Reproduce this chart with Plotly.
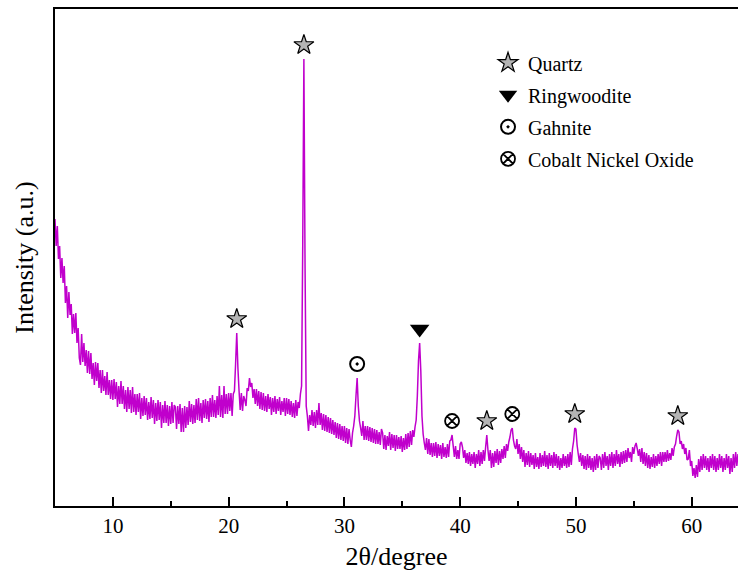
import numpy as np
import plotly.graph_objects as go

# XRD scan: 2θ from 5.0° in 0.1° steps, intensity in counts
scan_start = 5.0
scan_step = 0.1

# 5.0 – 9.9°
counts_part1 = [
    2870, 2600, 2800, 2470, 2600, 2280, 2480, 2230, 2400, 2030,
    2200, 1880, 2140, 1910, 2020, 1720, 1920, 1730, 1930, 1630,
    1780, 1480, 1410, 1720, 1440, 1630, 1400, 1560, 1330, 1550,
    1320, 1530, 1270, 1430, 1210, 1440, 1250, 1430, 1180, 1360,
    1130, 1360, 1150, 1300, 1110, 1340, 1110, 1260, 1070, 1260,
]
# 10.0 – 14.9°
counts_part2 = [
    1060, 1270, 1070, 1240, 990, 1200, 1020, 1250, 1020, 1200,
    970, 1160, 940, 1190, 970, 1160, 930, 1190, 940, 1120,
    910, 1120, 940, 1130, 870, 1080, 900, 1100, 910, 1080,
    860, 1040, 870, 1090, 880, 1060, 820, 1030, 850, 1060,
    860, 1040, 780, 1010, 830, 1050, 830, 1010, 800, 1000,
]
# 15.0 – 19.8°
counts_part3 = [
    820, 1040, 830, 1010, 990, 770, 1000, 820, 1020, 740,
    980, 740, 1000, 780, 990, 810, 1050, 840, 1020, 820,
    1010, 830, 1070, 860, 1080, 850, 1030, 830, 1060, 880,
    1070, 870, 1050, 840, 1080, 890, 1110, 890, 1060, 880,
    1100, 910, 1200, 890, 1110, 880, 1200, 920, 1120,
]
# 19.9 – 29.8°
counts_part4 = [
    920, 1130, 950, 1130, 900, 1120, 1150, 1420, 1730, 1380,
    1150, 960, 1130, 950, 1100, 1060, 1000, 1180, 1150, 1280,
    1190, 1230, 1080, 1170, 1020, 1170, 1000, 1150, 970, 1140,
    960, 1130, 950, 1100, 940, 1120, 970, 1090, 910, 1080,
    940, 1100, 920, 1070, 950, 1090, 910, 1050, 940, 1080,
    900, 1080, 920, 1070, 910, 1050, 890, 1030, 880, 1060,
    900, 1040, 980, 1120, 1200, 2600, 4470, 2400, 1000, 900,
    750, 910, 810, 960, 800, 940, 780, 960, 810, 1030,
    810, 930, 760, 920, 750, 910, 740, 890, 730, 880,
    720, 860, 710, 840, 680, 830, 670, 820, 660, 800,
]
# 29.9 – 39.7°
counts_part5 = [
    650, 800, 630, 780, 620, 770, 660, 590, 730, 800,
    900, 1100, 1280, 1000, 850, 780, 700, 850, 660, 800,
    660, 800, 650, 790, 640, 780, 630, 770, 620, 760,
    620, 740, 610, 770, 730, 570, 710, 560, 700,
    600, 740, 560, 720, 580, 710, 550, 710, 570, 690,
    570, 700, 540, 680, 560, 720, 570, 730, 590, 750,
    610, 760, 690, 790, 860, 1100, 1450, 1630, 1350, 900,
    720, 630, 560, 680, 520, 670, 510, 630, 490, 630,
    500, 640, 480, 620, 500, 610, 470, 630, 490, 590,
    480, 620, 490, 650, 660, 710, 600, 490, 600, 470,
]
# 39.8 – 49.7°
counts_part6 = [
    560, 470, 620, 640, 590, 480, 560, 430, 530, 420,
    540, 400, 520, 420, 540, 380, 520, 420, 560, 400,
    540, 420, 560, 450, 590, 710, 560, 450, 560, 380,
    530, 390, 550, 430, 570, 410, 550, 430, 570, 470,
    600, 480, 620, 550, 640, 690, 760, 780, 660, 600,
    570, 670, 520, 620, 470, 590, 440, 560, 390, 530,
    410, 550, 390, 530, 410, 510, 370, 530, 390, 490,
    370, 530, 390, 510, 400, 550, 390, 510, 370, 530,
    400, 510, 380, 540, 400, 520, 380, 500, 360, 480,
    380, 520, 400, 500, 380, 520, 390, 540, 410, 570,
]
# 49.8 – 59.6°
counts_part7 = [
    650, 780, 770, 610, 520, 440, 530, 400, 510, 370,
    500, 360, 520, 380, 500, 360, 480, 340, 500, 360,
    520, 380, 500, 480, 360, 520, 380, 540, 400,
    500, 360, 520, 400, 540, 380, 520, 400, 560, 420,
    520, 390, 540, 420, 550, 430, 560, 440, 580, 480,
    540, 440, 590, 520, 600, 630, 570, 500, 570, 440,
    580, 420, 540, 400, 530, 380, 510, 370, 490, 390,
    520, 380, 500, 400, 520, 420, 540, 400, 540, 440,
    540, 440, 560, 450, 530, 460, 580, 500, 590, 620,
    700, 760, 740, 620, 650, 570, 620, 520, 580, 460,
]
# 59.7 – 64.1°
counts_part8 = [
    470, 560, 400, 450, 300, 380, 280, 410, 290, 470,
    340, 500, 360, 520, 380, 500, 360, 480, 340, 500,
    380, 520, 360, 500, 340, 480, 360, 520, 380, 500,
    340, 480, 360, 520, 380, 500, 320, 480, 340, 520,
    380, 540, 400, 520, 420,
]

# Identified reflections (2θ) and their phases
peak_2theta = [20.7, 26.5, 31.1, 36.5, 39.3, 42.3, 44.5, 49.9, 58.8]
peak_phase = ["Quartz", "Quartz", "Gahnite", "Ringwoodite", "Cobalt Nickel Oxide",
              "Quartz", "Cobalt Nickel Oxide", "Quartz", "Quartz"]

phase_order = ["Quartz", "Ringwoodite", "Gahnite", "Cobalt Nickel Oxide"]
phase_marker = {
    "Quartz": dict(symbol="star", size=15, color="#b4b4b4",
                   line=dict(color="#000000", width=1.2)),
    "Ringwoodite": dict(symbol="triangle-down", size=17, color="#000000",
                        line=dict(color="#000000", width=0)),
    "Gahnite": dict(symbol="circle-open-dot", size=14, color="#000000",
                    line=dict(color="#000000", width=2)),
    "Cobalt Nickel Oxide": dict(symbol="circle-x-open", size=14, color="#000000",
                                line=dict(color="#000000", width=1.8)),
}

counts = np.array(counts_part1 + counts_part2 + counts_part3 + counts_part4
                  + counts_part5 + counts_part6 + counts_part7 + counts_part8, dtype=float)
two_theta = np.round(scan_start + scan_step * np.arange(counts.size), 2)

label_gap = 140  # counts between a peak top and its phase symbol


def peak_top(t):
    near = np.abs(two_theta - t) <= 0.05
    return counts[near].max()


FONT = "Liberation Serif"

fig = go.Figure()
fig.add_trace(go.Scatter(
    x=two_theta, y=counts, mode="lines",
    line=dict(color="#C000CC", width=1.5, simplify=False),
    showlegend=False, hoverinfo="skip",
))

for i, phase in enumerate(phase_order):
    xs = [t for t, p in zip(peak_2theta, peak_phase) if p == phase]
    ys = [peak_top(t) + label_gap for t in xs]
    fig.add_trace(go.Scatter(
        x=xs, y=ys, mode="markers", name=phase,
        marker=phase_marker[phase], legendgroup=f"g{i}",
        cliponaxis=False,
    ))

fig.update_layout(
    width=738, height=575,
    margin=dict(l=55, r=0, t=9, b=69),
    paper_bgcolor="white", plot_bgcolor="white",
    font=dict(family=FONT, color="black"),
    showlegend=True,
    legend=dict(
        x=0.634, y=0.931, xanchor="left", yanchor="top",
        font=dict(family=FONT, size=20, color="black"),
        bgcolor="rgba(0,0,0,0)", borderwidth=0,
        tracegroupgap=3, itemsizing="trace",
    ),
    xaxis=dict(
        range=[5, 64.0], dtick=10, tick0=0,
        showline=True, linecolor="black", linewidth=1.5, mirror=True,
        ticks="inside", ticklen=9, tickwidth=1.5, tickcolor="black",
        minor=dict(dtick=5, ticks="inside", ticklen=5, tickwidth=1.5, tickcolor="black"),
        showgrid=False, zeroline=False,
        tickfont=dict(family=FONT, size=21, color="black"),
        title=dict(text="2θ/degree", font=dict(family=FONT, size=26, color="black"), standoff=10),
    ),
    yaxis=dict(
        range=[0, 4970],
        showline=True, linecolor="black", linewidth=1.5, mirror=False,
        ticks="", showticklabels=False, showgrid=False, zeroline=False,
        title=dict(text="Intensity (a.u.)", font=dict(family=FONT, size=26, color="black"), standoff=12),
    ),
)

fig.write_html("out.html")
